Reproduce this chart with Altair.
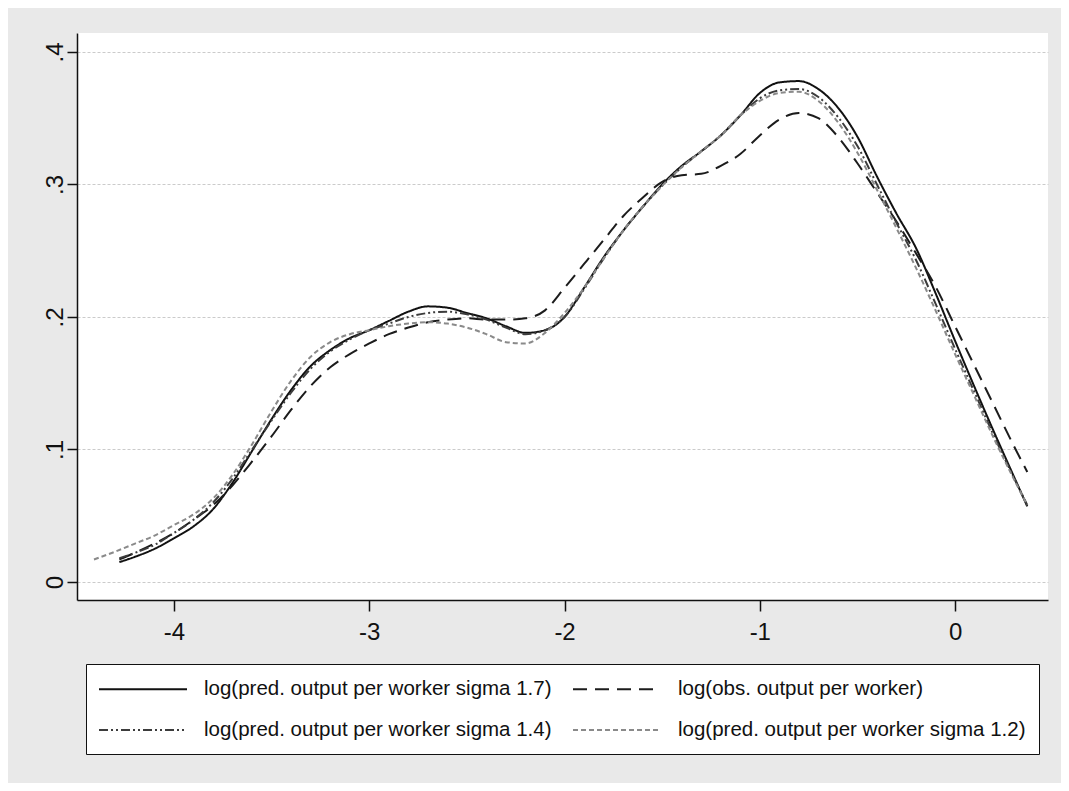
import altair as alt
import pandas as pd

# ---- data ----
series_names = [
    "log(pred. output per worker sigma 1.7)",
    "log(obs. output per worker)",
    "log(pred. output per worker sigma 1.4)",
    "log(pred. output per worker sigma 1.2)",
]

x_main = [-4.28, -4.2, -4.1, -4.0, -3.9, -3.8, -3.7, -3.6, -3.5, -3.4, -3.3, -3.2,
          -3.1, -3.0, -2.9, -2.8, -2.7, -2.6, -2.5, -2.4, -2.3, -2.2, -2.1, -2.0,
          -1.9, -1.8, -1.7, -1.6, -1.5, -1.4, -1.3, -1.2, -1.1, -1.0, -0.9, -0.8,
          -0.7, -0.6, -0.5, -0.4, -0.3, -0.2, -0.1, 0.0, 0.1, 0.2, 0.3, 0.37]

y_sigma17 = [0.015, 0.019, 0.025, 0.033, 0.042, 0.055, 0.075, 0.099, 0.123, 0.145, 0.163, 0.175,
             0.184, 0.190, 0.197, 0.204, 0.208, 0.207, 0.203, 0.199, 0.193, 0.188, 0.190, 0.200,
             0.222, 0.245, 0.265, 0.283, 0.300, 0.314, 0.325, 0.337, 0.352, 0.369, 0.377, 0.378,
             0.372, 0.358, 0.336, 0.306, 0.278, 0.252, 0.218, 0.182, 0.147, 0.113, 0.080, 0.057]

y_obs = [0.017, 0.022, 0.029, 0.037, 0.047, 0.058, 0.073, 0.091, 0.110, 0.130, 0.148, 0.162,
         0.172, 0.180, 0.187, 0.192, 0.196, 0.198, 0.199, 0.198, 0.198, 0.199, 0.205, 0.222,
         0.240, 0.258, 0.276, 0.290, 0.302, 0.307, 0.308, 0.314, 0.323, 0.337, 0.349, 0.354,
         0.350, 0.336, 0.316, 0.294, 0.272, 0.248, 0.223, 0.193, 0.163, 0.133, 0.103, 0.083]

y_sigma14 = [0.018, 0.022, 0.028, 0.037, 0.047, 0.060, 0.078, 0.100, 0.122, 0.143, 0.161, 0.174,
             0.183, 0.190, 0.195, 0.200, 0.203, 0.204, 0.202, 0.198, 0.192, 0.187, 0.190, 0.200,
             0.221, 0.244, 0.265, 0.283, 0.299, 0.313, 0.325, 0.337, 0.352, 0.365, 0.371, 0.372,
             0.366, 0.351, 0.329, 0.300, 0.271, 0.243, 0.210, 0.176, 0.143, 0.110, 0.079, 0.058]

x_sigma12 = [-4.41, -4.3] + x_main[1:]
y_sigma12 = [0.017, 0.023, 0.029, 0.035, 0.043, 0.051, 0.063, 0.081, 0.104, 0.129, 0.152, 0.170, 0.181,
             0.187, 0.190, 0.193, 0.195, 0.196, 0.195, 0.192, 0.187, 0.181, 0.180, 0.188, 0.203,
             0.222, 0.244, 0.265, 0.283, 0.299, 0.313, 0.325, 0.337, 0.352, 0.363, 0.369, 0.370,
             0.363, 0.347, 0.324, 0.296, 0.267, 0.237, 0.205, 0.172, 0.140, 0.108, 0.078, 0.058]

x_ticks = [-4, -3, -2, -1, 0]
y_ticks = [0, 0.1, 0.2, 0.3, 0.4]

# ---- build table ----
rows = []
for name, xs, ys in [
    (series_names[0], x_main, y_sigma17),
    (series_names[1], x_main, y_obs),
    (series_names[2], x_main, y_sigma14),
    (series_names[3], x_sigma12, y_sigma12),
]:
    for i, (xv, yv) in enumerate(zip(xs, ys)):
        rows.append({"series": name, "x": xv, "y": yv, "i": i})
df = pd.DataFrame(rows)

FONT = "Liberation Sans"
color_range = ["#111111", "#1c1c1c", "#3c3c3c", "#8a8a8a"]
dash_range = [[1, 0], [14, 8], [9, 3, 2, 3, 2, 3], [5, 3]]

# long horizontal sample line drawn by a custom symbol path (scaled by sqrt(size)/2)
legend = alt.Legend(
    title=None, orient="none", legendX=9, legendY=631, columns=2, direction="horizontal",
    symbolType="M-4,0L4,0", symbolSize=484, symbolStrokeWidth=2, symbolOffset=32,
    labelFont=FONT, labelFontSize=20.5, labelColor="#111111", labelLimit=800,
    labelOffset=49, padding=13, columnPadding=17, rowPadding=18,
    strokeColor="#111111", fillColor="#ffffff", cornerRadius=0,
)

chart = alt.Chart(df).mark_line(interpolate="monotone", strokeWidth=2).encode(
    x=alt.X("x:Q",
            scale=alt.Scale(domain=[-4.497, 0.476], nice=False, zero=False),
            axis=alt.Axis(values=x_ticks, labelExpr="'' + datum.value", title=None,
                          grid=False, domainColor="#111111", domainWidth=1.5,
                          tickColor="#111111", tickWidth=1.5, tickSize=11,
                          labelFont=FONT, labelFontSize=24, labelColor="#111111",
                          labelPadding=9)),
    y=alt.Y("y:Q",
            scale=alt.Scale(domain=[-0.0136, 0.4143], nice=False, zero=False),
            axis=alt.Axis(values=y_ticks,
                          labelExpr="datum.value == 0 ? '0' : replace(format(datum.value, '.1f'), '0.', '.')",
                          title=None, grid=True, gridColor="#cbcbcb", gridDash=[3, 2], gridWidth=1,
                          domainColor="#111111", domainWidth=1.5,
                          tickColor="#111111", tickWidth=1.5, tickSize=10,
                          labelAngle=270, labelAlign="center", labelBaseline="alphabetic",
                          labelFont=FONT, labelFontSize=24, labelColor="#111111",
                          labelPadding=5)),
    color=alt.Color("series:N", scale=alt.Scale(domain=series_names, range=color_range),
                    legend=legend),
    strokeDash=alt.StrokeDash("series:N", scale=alt.Scale(domain=series_names, range=dash_range),
                              legend=legend),
    order=alt.Order("i:Q"),
).properties(
    width=971, height=567,
    autosize=alt.AutoSizeParams(type="none"),
    padding={"left": 69, "top": 25, "right": 13, "bottom": 183},
    background="#e9e9e9",
).configure_view(
    stroke=None, fill="#ffffff"
)

chart.save("out.html", embed_options={"renderer": "svg", "actions": False})
